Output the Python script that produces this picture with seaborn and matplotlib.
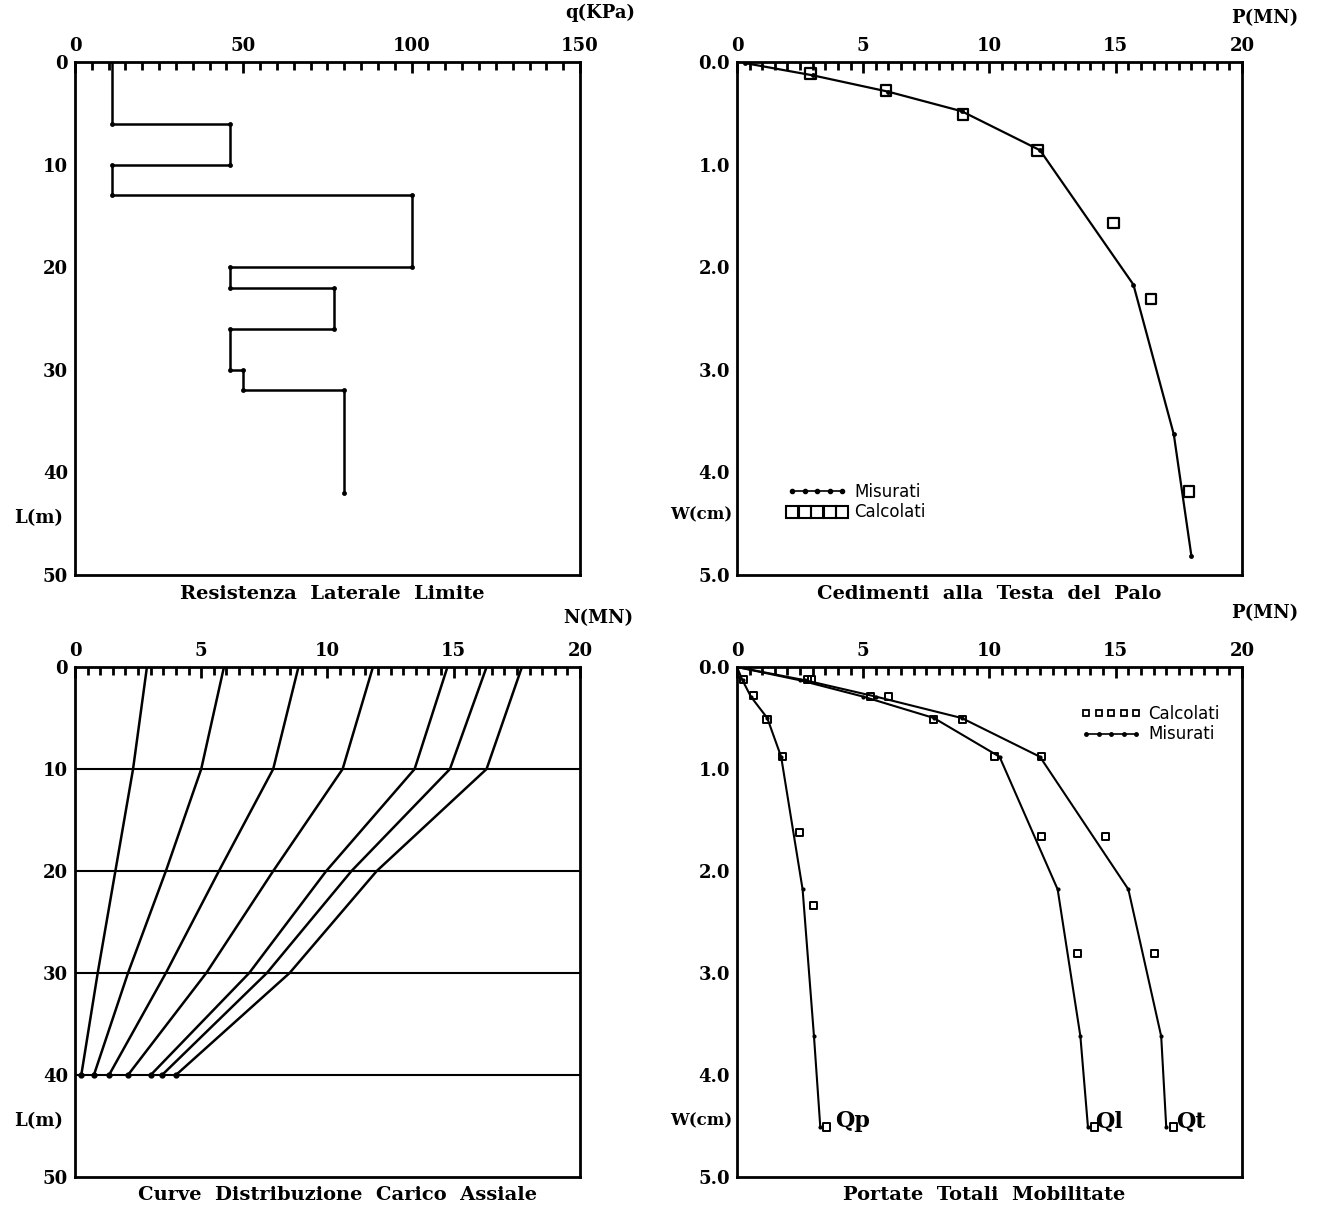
import matplotlib
matplotlib.use("Agg")
import matplotlib.pyplot as plt
from matplotlib.lines import Line2D
from matplotlib.ticker import MultipleLocator, FormatStrFormatter
import seaborn as sns

# --- resistenza laterale limite (profilo a gradini) ---
depth_q = [0, 6, 6, 10, 10, 13, 13, 20, 20, 22, 22, 26, 26, 30, 30, 32, 32, 42]
q_kpa = [11, 11, 46, 46, 11, 11, 100, 100, 46, 46, 77, 77, 46, 46, 50, 50, 80, 80]

# --- cedimenti alla testa del palo ---
p_mis = [0.3, 3.0, 6.0, 8.9, 12.0, 15.7, 17.3, 18.0]
w_mis = [0.01, 0.13, 0.29, 0.48, 0.86, 2.17, 3.63, 4.82]
p_calc = [2.9, 5.9, 8.95, 11.9, 14.9, 16.4, 17.9]
w_calc = [0.11, 0.28, 0.51, 0.86, 1.57, 2.31, 4.19]

# --- distribuzione carico assiale ---
depth_n = [0, 10, 20, 30, 40]
n_1 = [2.85, 2.3, 1.6, 0.9, 0.25]
n_2 = [5.9, 5.0, 3.6, 2.1, 0.75]
n_3 = [8.85, 7.85, 5.7, 3.6, 1.35]
n_4 = [11.8, 10.6, 7.85, 5.2, 2.1]
n_5 = [14.75, 13.45, 9.95, 6.9, 3.0]
n_6 = [16.3, 14.85, 10.95, 7.6, 3.45]
n_7 = [17.7, 16.3, 11.95, 8.5, 4.0]
n_curves = [n_1, n_2, n_3, n_4, n_5, n_6, n_7]
grid_depths = [10, 20, 30, 40]

# --- portate totali mobilitate ---
w_tot = [0.0, 0.13, 0.29, 0.5, 0.88, 2.18, 3.62, 4.51]
qp_mis = [0.0, 0.22, 0.55, 1.2, 1.75, 2.6, 3.05, 3.3]
ql_mis = [0.0, 2.5, 5.0, 7.8, 10.4, 12.7, 13.6, 13.9]
qt_mis = [0.0, 2.7, 5.5, 8.9, 12.0, 15.5, 16.8, 17.0]
w_tot_calc = [0.12, 0.28, 0.51, 0.88, 1.62, 2.34, 4.51]
qp_calc = [0.25, 0.64, 1.19, 1.82, 2.49, 3.03, 3.55]
w_ql_calc = [0.12, 0.29, 0.51, 0.88, 1.66, 2.81, 4.51]
ql_calc = [2.8, 5.3, 7.8, 10.2, 12.05, 13.5, 14.15]
qt_calc = [2.95, 6.0, 8.95, 12.05, 14.6, 16.55, 17.3]
curve_names = ["Qp", "Ql", "Qt"]
curve_tags_x = [3.9, 14.2, 17.4]

sns.set_style("white")
plt.rcParams["font.family"] = ["DejaVu Serif"]
plt.rcParams["font.weight"] = "bold"
plt.rcParams["text.color"] = "black"
plt.rcParams["axes.labelcolor"] = "black"

fig = plt.figure(figsize=(13.2, 12.13), dpi=100)
ax_q = fig.add_axes([0.0568, 0.526, 0.3826, 0.4229])
ax_w = fig.add_axes([0.5583, 0.526, 0.3826, 0.4229])
ax_n = fig.add_axes([0.0568, 0.0297, 0.3826, 0.4204])
ax_t = fig.add_axes([0.5583, 0.0297, 0.3826, 0.4204])


def style_axis(ax, xmax, ymax, xmaj, xmin, ymaj, ymin, yfmt):
    ax.set_xlim(0, xmax)
    ax.set_ylim(ymax, 0)
    ax.xaxis.set_ticks_position("top")
    ax.xaxis.set_label_position("top")
    ax.xaxis.set_major_locator(MultipleLocator(xmaj))
    ax.xaxis.set_minor_locator(MultipleLocator(xmin))
    ax.yaxis.set_major_locator(MultipleLocator(ymaj))
    ax.yaxis.set_minor_locator(MultipleLocator(ymin))
    ax.yaxis.set_major_formatter(FormatStrFormatter(yfmt))
    ax.xaxis.set_major_formatter(FormatStrFormatter("%d"))
    ax.tick_params(which="both", direction="in", width=2, colors="black",
                   labelsize=13, pad=5)
    ax.tick_params(which="major", length=8)
    ax.tick_params(which="minor", length=6)
    for side in ["top", "bottom", "left", "right"]:
        ax.spines[side].set_visible(True)
        ax.spines[side].set_linewidth(2)
        ax.spines[side].set_color("black")
    for lab in ax.get_xticklabels() + ax.get_yticklabels():
        lab.set_fontweight("bold")


def caption(ax, text, x, y):
    ax.text(x, y, text, transform=ax.transAxes, ha="center", va="center",
            fontsize=14, fontweight="bold", family="DejaVu Serif",
            color="black")


# pannello 1: resistenza laterale
sns.lineplot(x=q_kpa, y=depth_q, sort=False, estimator=None, color="black",
             linewidth=1.8, ax=ax_q)
ax_q.plot(q_kpa[1:], depth_q[1:], "o", color="black", markersize=3.5,
          markeredgewidth=0)
style_axis(ax_q, 150, 50, 50, 5, 10, 1, "%d")
ax_q.set_xlabel("q(KPa)", fontsize=13, fontweight="bold")
ax_q.xaxis.set_label_coords(1.04, 1.086)
ax_q.set_ylabel("L(m)", fontsize=13, fontweight="bold", rotation=0)
ax_q.yaxis.set_label_coords(-0.071, 0.094)
caption(ax_q, "Resistenza  Laterale  Limite", 0.51, -0.037)

# pannello 2: cedimenti alla testa
sns.lineplot(x=p_mis, y=w_mis, sort=False, estimator=None, color="black",
             linewidth=1.6, marker="o", markersize=3.5, markeredgewidth=0,
             ax=ax_w)
sns.scatterplot(x=p_calc, y=w_calc, marker="s", s=60, facecolor="none",
                edgecolor="black", linewidth=1.6, ax=ax_w, zorder=3)
style_axis(ax_w, 20, 5, 5, 0.5, 1, 0.1, "%.1f")
ax_w.set_xlabel("P(MN)", fontsize=13, fontweight="bold")
ax_w.xaxis.set_label_coords(1.046, 1.076)
ax_w.set_ylabel("W(cm)", fontsize=12, fontweight="bold", rotation=0)
ax_w.yaxis.set_label_coords(-0.07, 0.10)
h_mis = Line2D([], [], color="black", linewidth=1.2, marker="o", markersize=3)
h_calc = Line2D([], [], color="black", linestyle="none", marker="s",
                markersize=8, markerfacecolor="none", markeredgewidth=1.5)
ax_w.legend([h_mis, h_calc], ["Misurati", "Calcolati"], loc="lower left",
            bbox_to_anchor=(0.07, 0.075), frameon=False, numpoints=5,
            handlelength=3.6, handletextpad=0.4, labelspacing=0.15,
            labelcolor="black",
            prop={"family": "DejaVu Sans", "size": 12, "weight": "normal"})
caption(ax_w, "Cedimenti  alla  Testa  del  Palo", 0.5, -0.037)

# pannello 3: distribuzione carico assiale
for d in grid_depths:
    ax_n.axhline(d, color="black", linewidth=1.5)
for curve in n_curves:
    sns.lineplot(x=curve, y=depth_n, sort=False, estimator=None, color="black",
                 linewidth=1.8, ax=ax_n)
    ax_n.plot(curve[-1], depth_n[-1], "o", color="black", markersize=3.5)
style_axis(ax_n, 20, 50, 5, 0.5, 10, 1, "%d")
ax_n.set_xlabel("N(MN)", fontsize=13, fontweight="bold")
ax_n.xaxis.set_label_coords(1.036, 1.086)
ax_n.set_ylabel("L(m)", fontsize=13, fontweight="bold", rotation=0)
ax_n.yaxis.set_label_coords(-0.071, 0.092)
caption(ax_n, "Curve  Distribuzione  Carico  Assiale", 0.52, -0.035)

# pannello 4: portate totali mobilitate
for vals in [qp_mis, ql_mis, qt_mis]:
    sns.lineplot(x=vals, y=w_tot, sort=False, estimator=None, color="black",
                 linewidth=1.5, marker="o", markersize=3, markeredgewidth=0,
                 ax=ax_t)
for vals, ws in [(qp_calc, w_tot_calc), (ql_calc, w_ql_calc), (qt_calc, w_ql_calc)]:
    sns.scatterplot(x=vals, y=ws, marker="s", s=26, facecolor="none",
                    edgecolor="black", linewidth=1.4, ax=ax_t, zorder=3)
for name, xpos in zip(curve_names, curve_tags_x):
    ax_t.text(xpos, w_tot[-1] - 0.06, name, fontsize=16, fontweight="bold",
              ha="left", va="center", family="DejaVu Serif", color="black")
style_axis(ax_t, 20, 5, 5, 0.5, 1, 0.1, "%.1f")
ax_t.set_xlabel("P(MN)", fontsize=13, fontweight="bold")
ax_t.xaxis.set_label_coords(1.046, 1.096)
ax_t.set_ylabel("W(cm)", fontsize=12, fontweight="bold", rotation=0)
ax_t.yaxis.set_label_coords(-0.07, 0.094)
h_calc2 = Line2D([], [], color="black", linestyle="none", marker="s",
                 markersize=5, markerfacecolor="none", markeredgewidth=1.3)
h_mis2 = Line2D([], [], color="black", linewidth=1.2, marker="o", markersize=2.5)
ax_t.legend([h_calc2, h_mis2], ["Calcolati", "Misurati"], loc="upper right",
            bbox_to_anchor=(0.985, 0.955), frameon=False, numpoints=5,
            handlelength=3.6, handletextpad=0.4, labelspacing=0.15,
            labelcolor="black",
            prop={"family": "DejaVu Sans", "size": 12, "weight": "normal"})
caption(ax_t, "Portate  Totali  Mobilitate", 0.49, -0.035)

fig.savefig("out.png", dpi=100, facecolor="white")
